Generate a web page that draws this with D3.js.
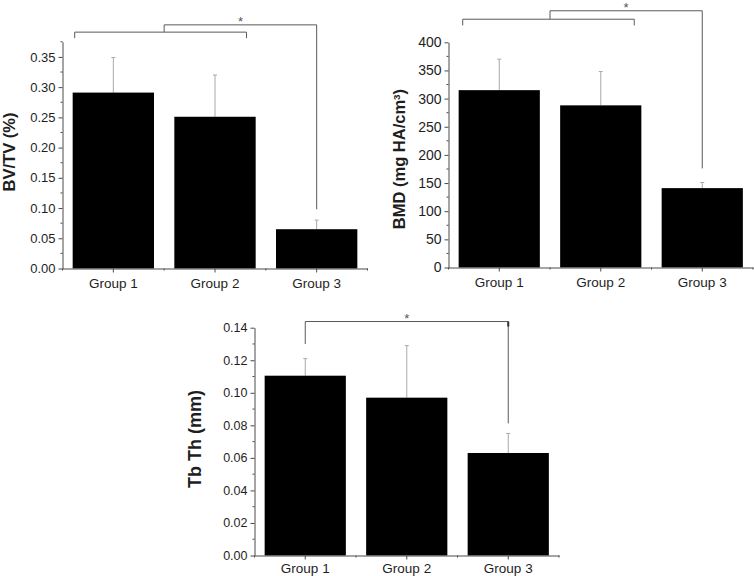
<!DOCTYPE html>
<html><head><meta charset="utf-8">
<script src="https://cdn.jsdelivr.net/npm/d3@7"></script>
<style>
html,body{margin:0;padding:0;background:#fff;}
svg{display:block;font-family:"Liberation Sans",Arial,sans-serif;}
</style></head>
<body><svg id="c" width="754" height="576"></svg>
<script>
// ---- data ----
const categories = ["Group 1", "Group 2", "Group 3"];
const bvtvMean = [0.291, 0.251, 0.065];
const bvtvSD   = [0.058, 0.069, 0.015];
const bmdMean  = [315, 288, 141];
const bmdSD    = [55, 60, 10];
const tbthMean = [0.1105, 0.097, 0.063];
const tbthSD   = [0.0105, 0.032, 0.012];
const bvtvTicks = [0, 0.05, 0.10, 0.15, 0.20, 0.25, 0.30, 0.35];
const bmdTicks  = [0, 50, 100, 150, 200, 250, 300, 350, 400];
const tbthTicks = [0, 0.02, 0.04, 0.06, 0.08, 0.10, 0.12, 0.14];
const bvtvLabel = "BV/TV (%)";
const bmdLabel  = "BMD (mg HA/cm";
const tbthLabel = "Tb Th (mm)";
// significance brackets (data units)
const bvtvSig = {pairY: 0.391, pairLeg: 0.381, topY: 0.403, endY: 0.098};
const bmdSig  = {pairY: 441, pairLeg: 430, topY: 456, endY: 176};
const tbthSig = {topY: 0.1438, startY: 0.130, endY: 0.0812};

const svg = d3.select("#c");
const AX = "#4a4a4a", TXT = "#1e1e1e", ERR = "#a8a8a8", BR = "#5a5a5a";

function panel(o) {
  const g = svg.append("g");
  const x = d3.scaleBand().domain(categories).range([o.x0, o.x1]).paddingInner(0.2).paddingOuter(0.1);
  const y = d3.scaleLinear().domain([0, o.ymax]).range([o.yb, o.yt]);
  const step = x.step();
  const cx = c => x(c) + x.bandwidth() / 2;
  const data = categories.map((c, i) => ({c, m: o.mean[i], s: o.sd[i]}));

  // error bars (upper only)
  g.selectAll(".eb").data(data).join("line")
    .attr("x1", d => cx(d.c)).attr("x2", d => cx(d.c))
    .attr("y1", d => y(d.m)).attr("y2", d => y(d.m + d.s))
    .attr("stroke", ERR).attr("stroke-width", 1);
  g.selectAll(".ec").data(data).join("line")
    .attr("x1", d => cx(d.c) - 2).attr("x2", d => cx(d.c) + 2)
    .attr("y1", d => y(d.m + d.s)).attr("y2", d => y(d.m + d.s))
    .attr("stroke", ERR).attr("stroke-width", 1);
  // bars
  g.selectAll(".bar").data(data).join("rect")
    .attr("x", d => x(d.c)).attr("width", x.bandwidth())
    .attr("y", d => y(d.m)).attr("height", d => y(0) - y(d.m))
    .attr("fill", "#000");

  // y axis
  const ya = g.append("g").attr("transform", `translate(${o.x0},0)`)
    .call(d3.axisLeft(y).tickValues(o.ticks).tickFormat(o.fmt).tickSize(4).tickPadding(3).tickSizeOuter(0));
  ya.select(".domain").attr("stroke", AX);
  ya.selectAll(".tick line").attr("stroke", AX);
  ya.selectAll(".tick text").attr("fill", TXT).style("font-size", o.tfs + "px").style("font-family", "Liberation Sans, Arial, sans-serif");
  // y minor ticks
  const minors = [];
  for (let i = 0; i < o.ticks.length; i++) {
    const a = o.ticks[i], b = i + 1 < o.ticks.length ? o.ticks[i + 1] : null;
    if (b !== null) minors.push((a + b) / 2);
  }
  if (o.ymax > o.ticks[o.ticks.length - 1] + 1e-9) minors.push(o.ymax);
  g.selectAll(".ym").data(minors).join("line")
    .attr("x1", o.x0 - 2).attr("x2", o.x0).attr("y1", d => y(d)).attr("y2", d => y(d))
    .attr("stroke", AX);

  // x axis
  const xa = g.append("g").attr("transform", `translate(0,${o.yb})`)
    .call(d3.axisBottom(x).tickSize(4).tickSizeOuter(0));
  xa.select(".domain").attr("stroke", AX);
  xa.selectAll(".tick line").attr("stroke", AX);
  xa.selectAll(".tick text").attr("fill", TXT).attr("y", o.xly).attr("dy", 0)
    .style("font-size", "13.5px").style("font-family", "Liberation Sans, Arial, sans-serif");
  // x minor ticks at band boundaries
  const bounds = d3.range(categories.length + 1).map(k => o.x0 + k * step);
  g.selectAll(".xm").data(bounds).join("line")
    .attr("x1", d => d).attr("x2", d => d).attr("y1", o.yb).attr("y2", o.yb + 2)
    .attr("stroke", AX);

  // y label
  const lab = g.append("text")
    .attr("transform", `translate(${o.lx},${o.ly}) rotate(-90)`)
    .attr("text-anchor", "middle").attr("fill", TXT)
    .style("font-size", o.lfs + "px").style("font-weight", "bold")
    .text(o.label);
  if (o.sup) {
    lab.append("tspan").attr("baseline-shift", "super").style("font-size", (o.lfs * 0.6) + "px").text(o.sup);
    lab.append("tspan").text(")");
  }
  return {g, x, y, cx, step};
}

function line(g, pts) {
  g.append("path").attr("d", d3.line()(pts)).attr("fill", "none").attr("stroke", BR).attr("stroke-width", 1);
}
function star(g, xx, yy) {
  g.append("text").attr("x", xx).attr("y", yy + 1).attr("text-anchor", "middle")
    .attr("fill", "#555").style("font-size", "13px").text("*");
}

// Panel 1: BV/TV
const p1 = panel({x0: 62.5, x1: 367.5, yb: 268.5, yt: 41.8, ymax: 0.375, mean: bvtvMean, sd: bvtvSD,
  ticks: bvtvTicks, fmt: d3.format(".2f"), tfs: 13, label: bvtvLabel, lfs: 16.5, lx: 15, ly: 152, xly: 19.5});
(function(){
  const {g, y, cx, step} = p1, s = bvtvSig;
  const L = cx("Group 1") - 0.38 * step, R = cx("Group 2") + 0.31 * step;
  const mid = (cx("Group 1") + cx("Group 2")) / 2, e = cx("Group 3");
  line(g, [[L, y(s.pairLeg)], [L, y(s.pairY)], [R, y(s.pairY)], [R, y(s.pairLeg)]]);
  line(g, [[mid, y(s.pairY)], [mid, y(s.topY)], [e, y(s.topY)], [e, y(s.endY)]]);
  star(g, (mid + e) / 2, y(s.topY));
})();

// Panel 2: BMD
const p2 = panel({x0: 448.5, x1: 753, yb: 267.5, yt: 42.3, ymax: 400, mean: bmdMean, sd: bmdSD,
  ticks: bmdTicks, fmt: d3.format("d"), tfs: 14, label: bmdLabel, sup: "3", lfs: 16.5, lx: 405, ly: 159, xly: 19.5});
(function(){
  const {g, y, cx, step} = p2, s = bmdSig;
  const L = cx("Group 1") - 0.36 * step, R = cx("Group 2") + 0.33 * step;
  const mid = (cx("Group 1") + cx("Group 2")) / 2, e = cx("Group 3");
  line(g, [[L, y(s.pairLeg)], [L, y(s.pairY)], [R, y(s.pairY)], [R, y(s.pairLeg)]]);
  line(g, [[mid, y(s.pairY)], [mid, y(s.topY)], [e, y(s.topY)], [e, y(s.endY)]]);
  star(g, (mid + e) / 2, y(s.topY));
})();

// Panel 3: Tb Th
const p3 = panel({x0: 254.5, x1: 559, yb: 555.5, yt: 327.7, ymax: 0.14, mean: tbthMean, sd: tbthSD,
  ticks: tbthTicks, fmt: d3.format(".2f"), tfs: 12.5, label: tbthLabel, lfs: 18, lx: 200.5, ly: 439, xly: 17});
(function(){
  const {g, y, cx} = p3, s = tbthSig;
  const a = cx("Group 1"), e = cx("Group 3");
  line(g, [[a, y(s.startY)], [a, y(s.topY)], [e, y(s.topY)], [e, y(s.endY)]]);
  g.append("line").attr("x1", e).attr("x2", e).attr("y1", y(s.topY)).attr("y2", y(s.topY) + 5)
    .attr("stroke", "#333").attr("stroke-width", 2);
  star(g, (a + e) / 2, y(s.topY));
})();
</script>
</body></html>
